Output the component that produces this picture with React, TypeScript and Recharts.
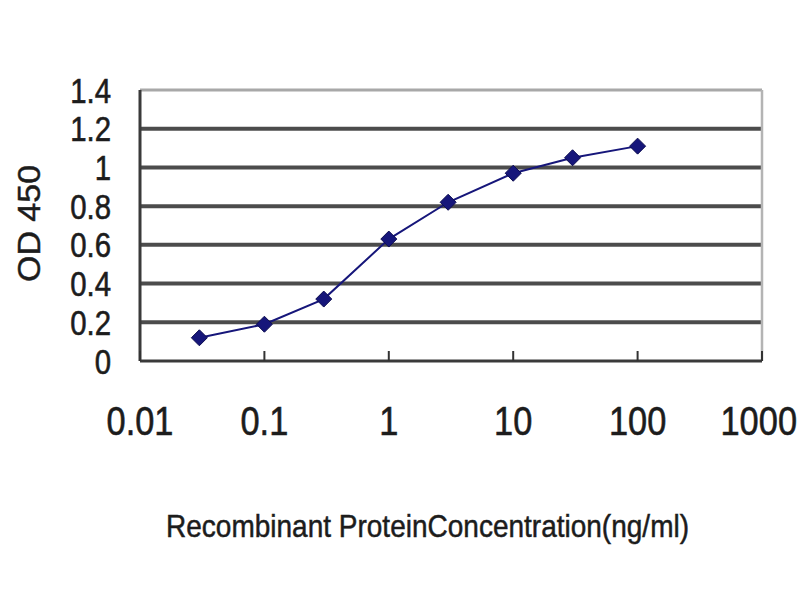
import React from 'react';
import { LineChart, Line, XAxis, YAxis, CartesianGrid, ReferenceLine } from 'recharts';

const concentrations = [0.03, 0.1, 0.3, 1, 3, 10, 30, 100];
const od450 = [0.12, 0.19, 0.32, 0.63, 0.82, 0.97, 1.05, 1.11];
const xTicks = [0.01, 0.1, 1, 10, 100, 1000];
const xTickLabels = ['0.01', '0.1', '1', '10', '100', '1000'];
const yTicks = [0, 0.2, 0.4, 0.6, 0.8, 1, 1.2, 1.4];
const yTickLabels = ['0', '0.2', '0.4', '0.6', '0.8', '1', '1.2', '1.4'];
const gridValues = [0.2, 0.4, 0.6, 0.8, 1, 1.2];
const xTitle = 'Recombinant ProteinConcentration(ng/ml)';
const yTitle = 'OD 450';

const data = concentrations.map((c, i) => ({ conc: c, od: od450[i] }));

const FONT = '"Liberation Sans", Arial, sans-serif';
const TEXT = '#1c1c1c';
const NAVY = '#16167a';

const XTick = (props: any) => {
  const { x, y, payload } = props;
  const idx = xTicks.indexOf(payload.value);
  const label = idx >= 0 ? xTickLabels[idx] : String(payload.value);
  const fs = 40;
  const sx = 0.86;
  const half = (label.length * 0.556 * fs * sx) / 2;
  const cx = Math.min(x, 797 - half);
  return (
    <g>
      <line x1={x} x2={x} y1={y - 10} y2={y} stroke="#333" strokeWidth={2} />
      <text
        transform={`translate(${cx},${y + 74}) scale(${sx},1)`}
        textAnchor="middle"
        fontFamily={FONT}
        fontSize={fs}
        fill={TEXT}
        stroke={TEXT}
        strokeWidth={0.6}
      >
        {label}
      </text>
    </g>
  );
};

const YTick = (props: any) => {
  const { x, y, payload } = props;
  const idx = yTicks.indexOf(payload.value);
  const label = idx >= 0 ? yTickLabels[idx] : String(payload.value);
  const fs = 35;
  return (
    <text
      transform={`translate(${x - 29},${y + 12.5}) scale(0.84,1)`}
      textAnchor="end"
      fontFamily={FONT}
      fontSize={fs}
      fill={TEXT}
      stroke={TEXT}
      strokeWidth={0.6}
    >
      {label}
    </text>
  );
};

const Diamond = (props: any) => {
  const { cx, cy, index } = props;
  if (cx == null || cy == null) return null;
  const r = 8;
  return (
    <path
      key={`d-${index}`}
      d={`M${cx},${cy - r} L${cx + r},${cy} L${cx},${cy + r} L${cx - r},${cy} Z`}
      fill={NAVY}
      stroke="#0c0c50"
      strokeWidth={1}
    />
  );
};

const YTitle = (props: any) => {
  const { viewBox } = props;
  const cx = viewBox.x + 30;
  const cy = viewBox.y + viewBox.height / 2 - 2;
  return (
    <text
      transform={`translate(${cx},${cy}) rotate(-90) scale(1,0.9)`}
      textAnchor="middle"
      dominantBaseline="central"
      fontFamily={FONT}
      fontSize={34}
      fill={TEXT}
      stroke={TEXT}
      strokeWidth={0.5}
    >
      {yTitle}
    </text>
  );
};

const XTitle = (props: any) => {
  const { viewBox } = props;
  const x0 = viewBox.x + 26;
  const y0 = viewBox.y + 176;
  return (
    <text
      x={x0}
      y={y0}
      textLength={523}
      lengthAdjust="spacingAndGlyphs"
      fontFamily={FONT}
      fontSize={32}
      fill={TEXT}
      stroke={TEXT}
      strokeWidth={0.5}
    >
      {xTitle}
    </text>
  );
};

export default function App() {
  return (
    <div style={{ width: 800, height: 600, background: '#fff' }}>
      <style>{`body{margin:0;background:#fff}`}</style>
      <LineChart
        width={800}
        height={600}
        data={data}
        margin={{ top: 90, right: 38, bottom: 0, left: 0 }}
      >
        <CartesianGrid
          vertical={false}
          horizontalValues={gridValues}
          stroke="#4c4c4c"
          strokeWidth={4}
        />
        <ReferenceLine y={1.4} stroke="#a8a8a8" strokeWidth={3} />
        <ReferenceLine x={1000} stroke="#b4b4b4" strokeWidth={2.5} />
        <XAxis
          dataKey="conc"
          type="number"
          scale="log"
          domain={[0.01, 1000]}
          ticks={xTicks}
          allowDataOverflow
          height={239}
          tickSize={0}
          tickMargin={0}
          tickLine={false}
          axisLine={{ stroke: '#3a3a3a', strokeWidth: 3 }}
          tick={<XTick />}
          interval={0}
          label={{ content: <XTitle /> }}
        />
        <YAxis
          type="number"
          domain={[0, 1.4]}
          ticks={yTicks}
          width={140}
          tickSize={0}
          tickMargin={0}
          tickLine={false}
          axisLine={{ stroke: '#3a3a3a', strokeWidth: 3 }}
          tick={<YTick />}
          interval={0}
          label={{ content: <YTitle /> }}
        />
        <Line
          type="linear"
          dataKey="od"
          stroke={NAVY}
          strokeWidth={2}
          dot={<Diamond />}
          activeDot={false}
          isAnimationActive={false}
        />
      </LineChart>
    </div>
  );
}
